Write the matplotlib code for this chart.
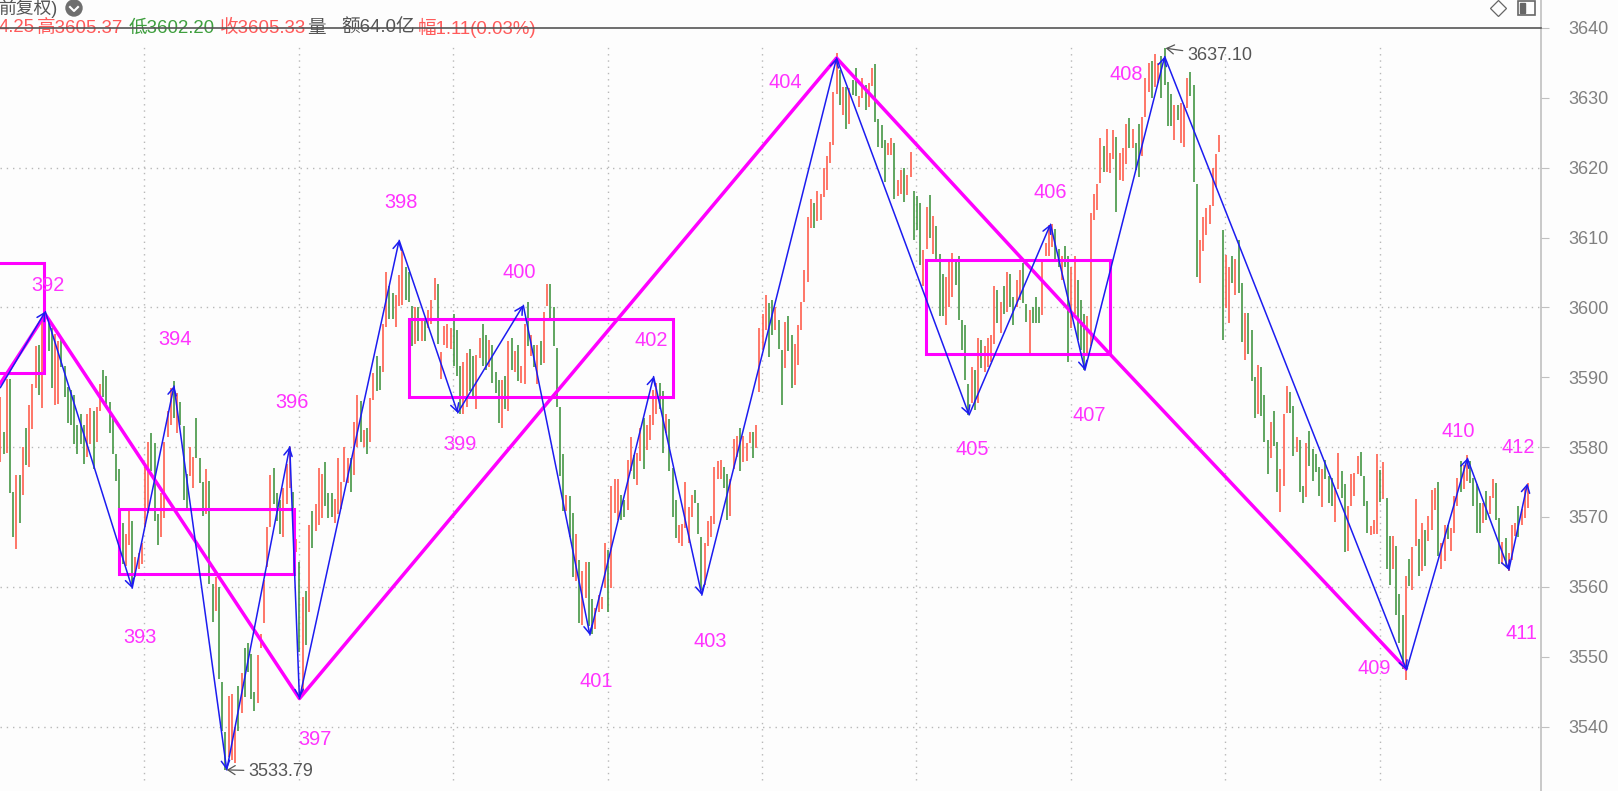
import matplotlib
matplotlib.use("Agg")
import matplotlib.pyplot as plt
from matplotlib.patches import Rectangle, Circle
from matplotlib.lines import Line2D
from matplotlib.transforms import IdentityTransform

plt.rcParams['font.family'] = ['Liberation Sans', 'Noto Sans CJK SC', 'DejaVu Sans']

# one entry per bar
bar_high = [
    3587.2,3582.2,3589.8,3589.8,3573.6,3576.0,3576.0,3580.0,3582.8,3586.0,
    3589.0,3594.4,3594.6,3598.6,3599.0,3598.2,3597.0,3596.2,3595.2,3595.8,
    3591.6,3588.6,3588.2,3587.4,3583.2,3584.8,3583.2,3584.8,3585.6,3585.2,
    3585.8,3589.0,3591.0,3590.2,3586.4,3584.2,3579.0,3576.8,3569.2,3567.6,
    3571.0,3569.4,3564.2,3564.8,3566.2,3577.2,3580.8,3582.0,3580.6,3570.4,
    3573.4,3580.8,3585.2,3588.4,3589.4,3587.8,3586.4,3583.0,3576.2,3580.0,
    3578.6,3584.2,3578.4,3575.0,3576.8,3575.2,3560.4,3561.4,3560.0,3546.4,
    3539.2,3544.4,3544.6,3540.0,3545.8,3547.6,3551.2,3552.0,3550.4,3545.0,
    3550.2,3553.2,3561.0,3568.6,3576.0,3577.0,3573.4,3572.4,3574.2,3577.6,
    3580.0,3573.6,3566.8,3563.6,3558.6,3559.4,3568.8,
    3570.8,3571.8,3577.0,3576.2,3577.8,3573.4,3573.4,3572.6,3578.4,3575.0,
    3580.0,3578.4,3578.4,3583.6,3587.4,3586.6,3582.4,3582.8,3587.0,3590.6,
    3593.0,3591.6,3597.6,3605.0,3603.0,3602.0,3601.8,3604.6,3608.2,3605.8,
    3605.0,3600.2,3600.0,3600.0,3598.4,3598.0,3599.6,3601.0,3604.2,3603.4,
    3593.6,3597.4,3597.6,3597.0,3599.0,3596.8,3591.6,3592.2,3593.4,3594.0,
    3593.0,3593.2,3595.6,3597.6,3596.0,3595.4,3594.6,3590.8,3589.6,3589.6,
    3590.2,3595.2,3595.6,3593.8,3594.6,3591.6,3597.6,3600.8,3596.0,3594.6,
    3594.6,3595.2,3599.4,3603.4,3603.4,3600.0,3594.2,3585.8,3579.0,3573.2,
    3573.0,3570.6,3567.6,3563.8,3562.2,3563.6,3563.6,3558.2,3557.0,3558.8,
    3558.6,3566.2,3565.2,3574.4,3575.4,3575.4,3573.2,3572.4,3578.2,3581.4,
    3578.8,3579.2,3582.8,3584.2,3583.2,3584.6,3588.2,3589.2,3589.2,3588.0,
    3584.8,3584.0,3577.0,3572.4,3568.8,3569.0,3575.0,3571.4,3573.2,3573.8,
    3572.0,3567.2,3566.2,3569.4,3570.2,3577.2,3578.0,3578.2,3577.2,3576.2,
    3575.4,3581.2,3581.6,3582.8,3581.6,3580.6,3582.2,3582.2,3583.2,
    3597.0,3599.1,3601.8,3600.6,3601.0,3600.1,3598.2,3593.9,3597.9,3598.7,
    3596.0,3594.8,3597.5,3600.7,3605.3,3613.0,3615.5,3614.9,3616.6,3616.3,
    3619.9,3621.6,3623.7,3630.9,3636.4,3634.0,3631.6,3631.6,3631.4,3632.6,
    3634.2,3630.2,3632.9,3631.8,3632.1,3634.2,3634.8,3626.9,3626.1,3624.0,
    3623.5,3624.3,3623.6,3618.3,3619.7,3619.9,3619.0,3622.3,3616.6,3615.9,
    3614.9,3608.2,3614.4,
    3616.1,3613.1,3611.6,3607.7,3604.8,3604.3,3606.5,3607.8,3606.8,3607.4,
    3598.2,3597.5,3589.1,3591.5,3591.0,3595.6,3595.3,3594.5,3595.6,3596.0,
    3603.1,3602.5,3600.7,3603.1,3605.0,3604.8,3601.5,3603.9,3605.3,3606.3,
    3600.5,3599.6,3600.0,3601.5,3600.1,3606.5,3609.2,3611.8,3612.0,3611.2,
    3608.4,3607.4,3608.8,3607.3,3605.8,3607.3,3603.9,3601.1,3599.1,3598.7,
    3613.5,3616.3,3617.7,3624.3,3623.1,3625.5,3622.1,3625.4,3624.4,3622.1,
    3622.8,3626.3,3627.1,3625.5,3623.6,3626.3,3627.3,3632.9,3635.0,3635.2,
    3636.3,3635.0,3636.0,3637.1,3632.3,3630.6,3629.0,3629.0,3629.3,3629.0,
    3632.9,3633.7,3631.8,3617.6,3609.6,3612.9,3614.2,3614.7,3620.0,3622.0,
    3624.7,3611.1,3607.5,3605.8,3607.4,3606.9,
    3609.6,3603.5,3599.2,3599.2,3596.8,3590.1,3591.7,3591.5,3587.4,3581.0,
    3583.6,3585.1,3580.8,3576.9,3584.8,3588.7,3587.9,3585.9,3581.5,3581.0,
    3574.5,3580.6,3582.3,3579.7,3579.0,3577.2,3576.8,3578.2,3575.8,3575.6,
    3574.2,3579.1,3576.6,3574.7,3571.6,3576.1,3576.3,3578.7,3579.3,3575.8,
    3572.3,3568.7,3569.6,3579.0,3576.7,3577.8,3572.7,3567.3,3567.3,3565.9,
    3558.9,3556.0,3561.5,3564.0,3565.7,3572.6,3566.9,3569.2,3568.1,3570.2,
    3573.9,3574.2,3575.0,3566.3,3568.9,3568.9,3568.4,3573.0,3575.6,3578.0,
    3577.5,3578.8,3578.0,3575.6,3574.7,3572.0,3572.0,3573.7,3573.0,3575.5,
    3574.8,3569.9,3566.4,3567.0,3564.9,3568.9,3569.2,3571.6,3571.1,3574.2,
    3574.9,
]
bar_low = [
    3577.8,3579.0,3579.2,3573.4,3567.2,3565.4,3569.2,3573.2,3577.4,3577.2,
    3582.6,3588.4,3587.4,3585.6,3593.8,3593.8,3588.4,3586.0,3586.2,3591.4,
    3587.2,3583.4,3583.2,3580.4,3579.0,3580.4,3577.6,3578.6,3580.4,3576.8,
    3580.8,3585.2,3587.2,3586.2,3582.0,3579.0,3575.2,3571.0,3563.2,3563.0,
    3566.0,3560.4,3561.4,3562.6,3563.2,3568.6,3570.6,3576.6,3569.4,3566.0,
    3567.2,3569.8,3581.4,3583.2,3584.2,3582.0,3583.2,3572.4,3571.0,3575.8,
    3574.2,3578.4,3574.8,3570.2,3570.4,3560.4,3555.0,3556.6,3546.8,3539.4,
    3533.8,3535.6,3535.2,3534.8,3539.4,3542.0,3544.2,3547.8,3544.0,3542.2,
    3543.4,3551.2,3554.8,3562.8,3568.6,3571.8,3569.4,3567.6,3567.2,3571.8,
    3574.2,3569.0,3565.0,3550.6,3544.6,3551.6,3556.4,
    3565.6,3568.0,3568.8,3569.8,3571.6,3569.8,3570.0,3569.2,3570.4,3571.2,
    3575.0,3574.8,3573.6,3576.0,3580.0,3580.8,3580.0,3579.0,3580.8,3586.8,
    3588.0,3588.2,3590.8,3597.2,3598.4,3598.4,3597.2,3600.2,3600.3,3601.0,
    3600.8,3594.4,3594.8,3595.2,3595.2,3595.2,3597.0,3597.6,3601.0,3594.8,
    3589.8,3594.6,3594.2,3594.0,3591.6,3590.2,3584.8,3584.8,3585.8,3588.0,
    3587.2,3585.4,3592.8,3591.6,3591.0,3591.4,3589.2,3587.8,3583.4,3582.8,
    3585.4,3585.2,3591.0,3590.8,3589.4,3589.2,3589.0,3594.4,3593.0,3591.4,
    3589.0,3591.8,3592.0,3600.2,3598.0,3594.4,3585.8,3575.8,3570.8,3570.8,
    3567.2,3561.4,3560.8,3554.8,3554.6,3558.4,3554.4,3553.2,3554.0,3556.4,
    3556.8,3559.8,3556.4,3559.8,3570.6,3569.6,3569.6,3570.0,3571.0,3576.6,
    3575.4,3574.6,3578.0,3576.8,3579.6,3581.0,3583.2,3584.8,3585.4,3579.2,
    3582.0,3576.6,3570.0,3567.0,3566.2,3565.8,3568.4,3566.2,3570.0,3572.0,
    3567.6,3559.6,3560.2,3565.8,3567.2,3569.0,3575.4,3575.4,3574.2,3569.6,
    3570.2,3576.8,3578.6,3576.6,3577.8,3578.0,3580.6,3578.4,3579.8,
    3587.9,3593.9,3596.8,3592.9,3596.0,3596.8,3594.1,3586.0,3591.3,3593.7,
    3588.5,3588.9,3591.7,3596.8,3600.8,3603.7,3611.3,3611.3,3612.3,3612.5,
    3615.8,3616.8,3620.6,3623.2,3630.6,3629.0,3627.5,3625.6,3626.3,3630.4,
    3630.2,3628.7,3629.9,3628.3,3628.7,3631.7,3626.6,3623.0,3622.8,3617.9,
    3621.8,3621.8,3615.5,3616.0,3616.2,3615.1,3616.1,3618.7,3609.6,3611.1,
    3606.1,3603.0,3608.4,
    3609.9,3607.7,3606.8,3598.7,3598.7,3597.5,3600.0,3601.5,3603.2,3598.2,
    3593.9,3589.6,3584.6,3586.3,3585.3,3586.3,3591.3,3590.8,3591.5,3592.2,
    3594.8,3597.7,3596.3,3599.1,3599.4,3600.1,3597.5,3600.1,3601.0,3600.6,
    3597.9,3593.4,3597.7,3597.7,3597.7,3598.9,3607.3,3607.3,3608.7,3606.8,
    3605.8,3603.9,3605.8,3592.2,3597.0,3599.1,3595.3,3593.9,3591.0,3593.2,
    3594.4,3612.5,3613.9,3617.8,3619.4,3619.4,3619.2,3621.3,3613.6,3618.2,
    3618.1,3620.5,3622.8,3622.8,3619.7,3618.7,3621.6,3627.3,3630.9,3629.9,
    3631.6,3632.1,3630.0,3631.8,3625.9,3625.9,3624.0,3626.8,3623.5,3623.0,
    3628.5,3630.2,3618.0,3604.4,3603.5,3608.0,3610.4,3611.9,3614.5,3617.3,
    3622.3,3595.3,3599.9,3597.7,3603.5,3601.8,
    3602.1,3595.0,3592.5,3593.3,3589.5,3584.1,3584.7,3584.4,3580.8,3576.1,
    3578.5,3580.1,3573.6,3570.7,3574.4,3584.9,3584.9,3578.7,3579.3,3573.6,
    3572.0,3572.9,3577.3,3575.1,3576.4,3573.0,3571.4,3575.5,3572.0,3571.6,
    3569.3,3574.0,3572.7,3565.0,3565.1,3571.5,3573.0,3576.1,3575.8,3571.6,
    3567.7,3567.4,3567.6,3567.6,3572.1,3572.5,3562.6,3560.3,3562.5,3556.0,
    3552.0,3548.2,3546.7,3560.1,3559.6,3565.8,3561.5,3562.2,3563.0,3566.5,
    3568.2,3571.0,3564.4,3562.6,3563.7,3566.8,3565.1,3567.7,3571.6,3573.5,
    3574.0,3575.1,3574.9,3571.6,3567.7,3567.7,3569.2,3569.6,3570.4,3572.7,
    3569.5,3563.2,3563.2,3563.0,3562.2,3563.9,3567.3,3567.2,3568.9,3569.9,
    3571.3,
]
# r = up bar, g = down bar
bar_dir = (
    "rgrggrgrgr" "rrgrgggrrg" "gggggggrrg" "rrgggggggr" "rgrrrrrggg"
    "rrrrgrgggr" "rgggrggrgg" "grrrgrgggg" "rrrrrgggrr" "rgrgrgr"
    "grrrgggrrr" "rrgrrgrgrr" "ggrrggrrrg" "ggrgrgrrrg" "rrrrgggrrg"
    "grrggrgggr" "grgrgrrgrg" "rgrrgggggr" "ggrgrrggrr"
    "rrgrrrggrr" "grrgrrrrgg" "rgggrrrrrg" "ggrrrrrrgg" "rrrgrrrgr"
    "rrrggrggrg" "grrrrrrgrr" "rrrrrgrgrg" "grrgrrgggg" "rrgrrgrrgg" "grr"
    "grgggrrrgg" "gggrgrgrrr" "rgrgrggrrg" "grgggrrrrg" "grggrrgggr"
    "rrrrgrrrgr" "rrgrggrrrg" "rrggggrgrr" "rgggrrrrrr" "rgrrgr"
    "ggrgggrggg" "rggrrrggrg" "grggggrggg" "rrggrrrrgg" "grrrgrggrg"
    "ggrgrrgrgr" "rrgrrgrrrg" "rrggggrgrr" "ggrgrrrgrr" "r"
)

# blue strokes, bar index and price of each turning point
stroke_bar = [0, 14, 41, 54, 70.4, 90, 93, 124, 142.2, 162.6, 183.3, 203.1, 218.1, 260,
              301.2, 326.5, 337.2, 362, 437.2, 456.1, 469, 474.8]
stroke_price = [3588.5, 3599.4, 3559.8, 3588.75, 3533.79, 3580.06, 3544.0, 3609.6, 3584.9,
                3600.3, 3553.1, 3590.1, 3558.8, 3635.7, 3584.6, 3611.9, 3591.0, 3635.9,
                3548.1, 3578.4, 3562.4, 3574.8]

# magenta segments
seg_bar = [0, 14, 93, 260, 345, 437]
seg_price = [3589.1, 3599.0, 3544.0, 3635.7, 3593.3, 3548.3]

# pivot boxes: left bar, right bar, low, high
box_left = [-3, 37, 127, 287.7]
box_right = [13.5, 91.2, 209.1, 345]
box_low = [3590.65, 3561.8, 3587.2, 3593.3]
box_high = [3606.4, 3571.1, 3598.3, 3606.8]

label_text = ['392', '393', '394', '396', '397', '398', '399', '400', '401', '402',
              '403', '404', '405', '406', '407', '408', '409', '410', '411', '412']
label_bar = [14.7, 43.5, 54.4, 90.7, 97.8, 124.7, 143, 161.3, 185.3, 202.3,
             220.6, 244, 302.1, 326.5, 338.7, 350.2, 427.2, 453.2, 472.8, 471.8]
label_price = [3603.2, 3552.7, 3595.4, 3586.4, 3538.2, 3615.0, 3580.3, 3605, 3546.5, 3595.25,
               3552.1, 3632.2, 3579.6, 3616.5, 3584.5, 3633.4, 3548.3, 3582.2, 3553.3, 3579.9]

y_ticks = [3540, 3550, 3560, 3570, 3580, 3590, 3600, 3610, 3620, 3630, 3640]
grid_prices = [3540, 3560, 3580, 3600, 3620]
grid_bars = [44.8 + 48 * k for k in range(9)]

# header strip: text, left edge in pixels, colour
quote_text = ['4.25', '高3605.37', '低3602.20', '收3605.33', '量', '额64.0亿', '幅1.11(0.03%)']
quote_left = [-1, 37, 129, 220, 307, 341, 418]
quote_color = ['#ff5a5a', '#ff5a5a', '#3f9f3f', '#ff5a5a', '#555555', '#555555', '#ff5a5a']

W, H = 1618, 791
fig = plt.figure(figsize=(W / 100, H / 100), dpi=100, facecolor='#fdfdfd')
ax = fig.add_axes([0, 0, 1541 / W, 1], facecolor='#fdfdfd')
ax.set_xlim(-0.09, 479.0)
ax.set_ylim(3530.77, 3644.0)

assert len(bar_high) == len(bar_low) == len(bar_dir)

ax.hlines(grid_prices, -0.09, 479.0, colors='#b8b8b8', linewidth=1.0, linestyle=(0, (1, 3.5)), zorder=1)
ax.vlines(grid_bars, 3532.3, 3637.3, colors='#b8b8b8', linewidth=1.0, linestyle=(0, (1, 3.5)), zorder=1)

xs = list(range(len(bar_high)))
for code, col in (('r', '#ff6655'), ('g', '#4c9a4c')):
    idx = [i for i in xs if bar_dir[i] == code]
    ax.vlines(idx, [bar_low[i] for i in idx], [bar_high[i] for i in idx],
              colors=col, linewidth=1.25, zorder=2)

for i in range(len(box_left)):
    ax.add_patch(Rectangle((box_left[i], box_low[i]), box_right[i] - box_left[i],
                           box_high[i] - box_low[i], fill=False, edgecolor='#ff00ff',
                           linewidth=2.2, zorder=3))

ax.plot(seg_bar, seg_price, color='#ff00ff', linewidth=2.5, zorder=4)

for i in range(1, len(stroke_bar)):
    ax.annotate('', xy=(stroke_bar[i], stroke_price[i]), xytext=(stroke_bar[i - 1], stroke_price[i - 1]),
                arrowprops=dict(arrowstyle='->,head_length=0.55,head_width=0.3', color='#1c1cf0',
                                lw=1.1, shrinkA=0, shrinkB=0, mutation_scale=10), zorder=5)

for t, bx, py in zip(label_text, label_bar, label_price):
    ax.text(bx, py, t, color='#ff33ff', fontsize=14.4, ha='center', va='center', zorder=6)

# high and low callouts
ax.annotate('3533.79', xy=(70.4, 3533.79), xytext=(77, 3533.6), color='#555555', fontsize=13, va='center',
            arrowprops=dict(arrowstyle='->,head_length=0.4,head_width=0.25', color='#555555',
                            lw=0.9, shrinkA=1, shrinkB=0), zorder=6)
ax.annotate('3637.10', xy=(362.3, 3637.1), xytext=(368.9, 3636.0), color='#555555', fontsize=13, va='center',
            arrowprops=dict(arrowstyle='->,head_length=0.4,head_width=0.25', color='#555555',
                            lw=0.9, shrinkA=1, shrinkB=0), zorder=6)

for name in ('top', 'left', 'bottom'):
    ax.spines[name].set_visible(False)
ax.spines['right'].set_color('#c0c0c0')
ax.spines['right'].set_linewidth(1.2)
ax.set_xticks([])
ax.yaxis.tick_right()
ax.set_yticks(y_ticks)
ax.tick_params(axis='y', length=6, width=0.8, color='#c0c0c0', labelcolor='#808080',
               labelsize=13, pad=13.5)

# header strip, placed in pixels from the top left
for t, x0, c in zip(quote_text, quote_left, quote_color):
    fig.text(x0 / W, 1 - 28 / H, t, color=c, fontsize=13.4, ha='left', va='center', zorder=3)
fig.add_artist(Line2D([0, 1541 / W], [1 - 28.4 / H, 1 - 28.4 / H], color='#555555', linewidth=1.2, zorder=4))
fig.text(-2 / W, 1 - 8 / H, '前复权)', color='#555555', fontsize=12.8, ha='left', va='center')

px = IdentityTransform()
fig.add_artist(Circle((74, H - 8), 8, color='#6e6e6e', transform=px))
fig.add_artist(Line2D([70, 74, 78], [H - 7, H - 11, H - 7], color='white', linewidth=1.5, transform=px))
fig.add_artist(Line2D([1498], [H - 8], marker='D', markersize=8, markerfacecolor='none',
                      markeredgecolor='#666666', markeredgewidth=0.9, transform=px))
fig.add_artist(Rectangle((1518, H - 15), 17, 14, fill=False, edgecolor='#666666', linewidth=1.2, transform=px))
fig.add_artist(Rectangle((1520, H - 13), 5, 10, color='#666666', transform=px))

fig.savefig('out.png', dpi=100, facecolor=fig.get_facecolor())
